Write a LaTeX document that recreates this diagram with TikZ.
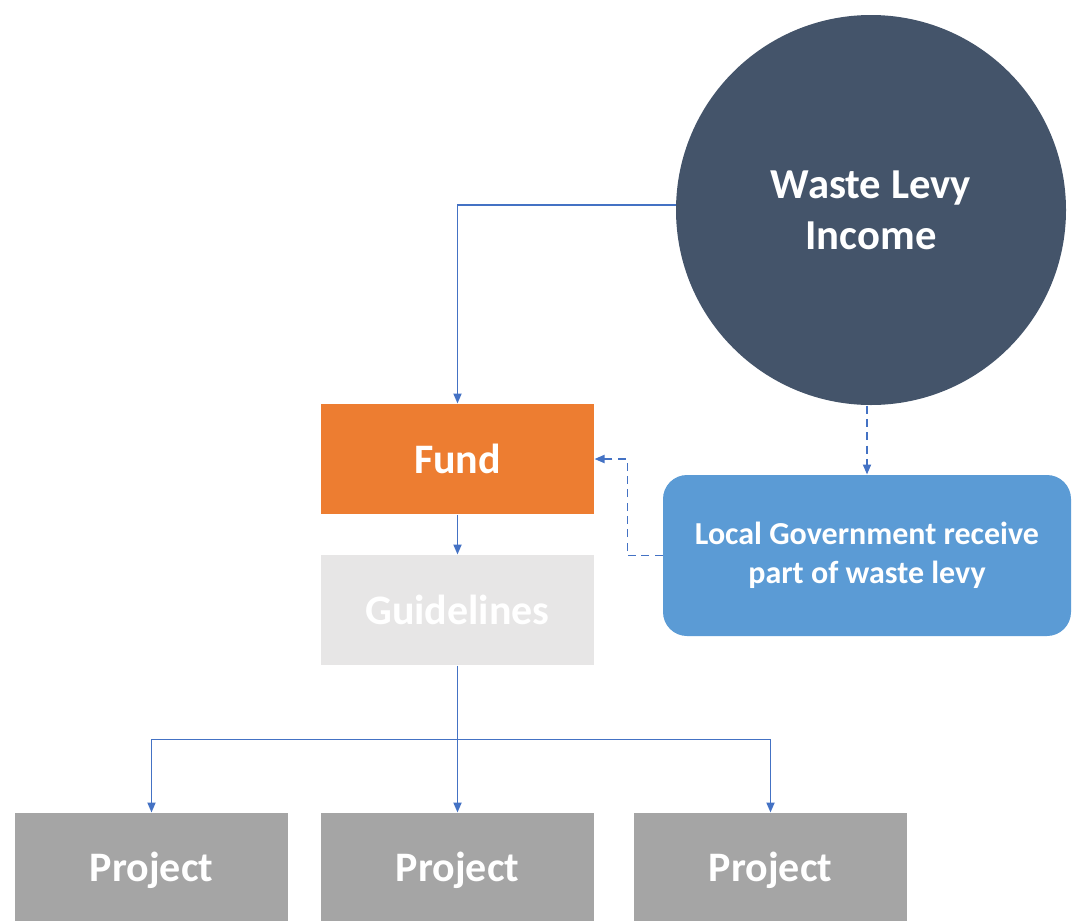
\documentclass[tikz,border=0pt]{standalone}
\usepackage{fontspec}
\setmainfont{Carlito}
\usetikzlibrary{arrows.meta}

\definecolor{levyblue}{RGB}{68,84,106}
\definecolor{fundorange}{RGB}{237,125,49}
\definecolor{guidegray}{RGB}{231,230,230}
\definecolor{localblue}{RGB}{91,155,213}
\definecolor{projgray}{RGB}{165,165,165}
\definecolor{linkblue}{RGB}{68,114,196}

\tikzset{every picture/.style={line width=0.75pt}}
\tikzset{
  boxbig/.style={minimum width=204.75pt,minimum height=82.5pt,inner sep=0pt,text=white,font=\bfseries\fontsize{31.5}{37}\selectfont},
  projbox/.style={boxbig,fill=projgray,minimum height=81pt,text depth=0pt},
  link/.style={draw=linkblue,line width=1.4pt,-{Triangle[length=7.5pt,width=6pt]}},
  dashlink/.style={link,dash pattern=on 6pt off 4pt}
}

\begin{document}
\begin{tikzpicture}[x=0.75pt,y=0.75pt,yscale=-1,xscale=1]
    \path[use as bounding box] (0,0) rectangle (1077,921);

    % Circle: income
    \node[circle,fill=levyblue,minimum size=292.5pt,inner sep=0pt,text=white,align=center,font=\bfseries\fontsize{32}{38}\selectfont] (levy) at (871,210) {Waste Levy\\Income};
    % Boxes
    \node[boxbig,fill=fundorange] (fund) at (457.5,459) {Fund};
    \node[boxbig,fill=guidegray] (guide) at (457.5,610) {Guidelines};
    \node[fill=localblue,rounded corners=18pt,minimum width=306pt,minimum height=120.75pt,inner sep=0pt,text=white,align=center,font=\bfseries\fontsize{24}{29}\selectfont] (local) at (867,555.5) {Local Government receive\\part of waste levy};
    % Projects
    \node[projbox] (projA) at (151.5,867) {Project};
    \node[projbox] (projB) at (457.5,867) {Project};
    \node[projbox] (projC) at (770.5,867) {Project};

    % Links
    \draw[link] ([yshift=-3.75pt]levy.west) -| (fund.north);
    \draw[dashlink] (local.north |- levy.south) -- (local.north);
    \draw[dashlink] (local.west) -- ++(-35,0) |- (fund.east);
    \draw[link] (fund) -- (guide);
    \draw[line width=1.4pt,draw=linkblue] (guide.south) -- ++(0,74) coordinate (split);
    \draw[link] (split) -| (projA.north);
    \draw[link] (split) -- (projB.north);
    \draw[link] (split) -| (projC.north);

\end{tikzpicture}
\end{document}
